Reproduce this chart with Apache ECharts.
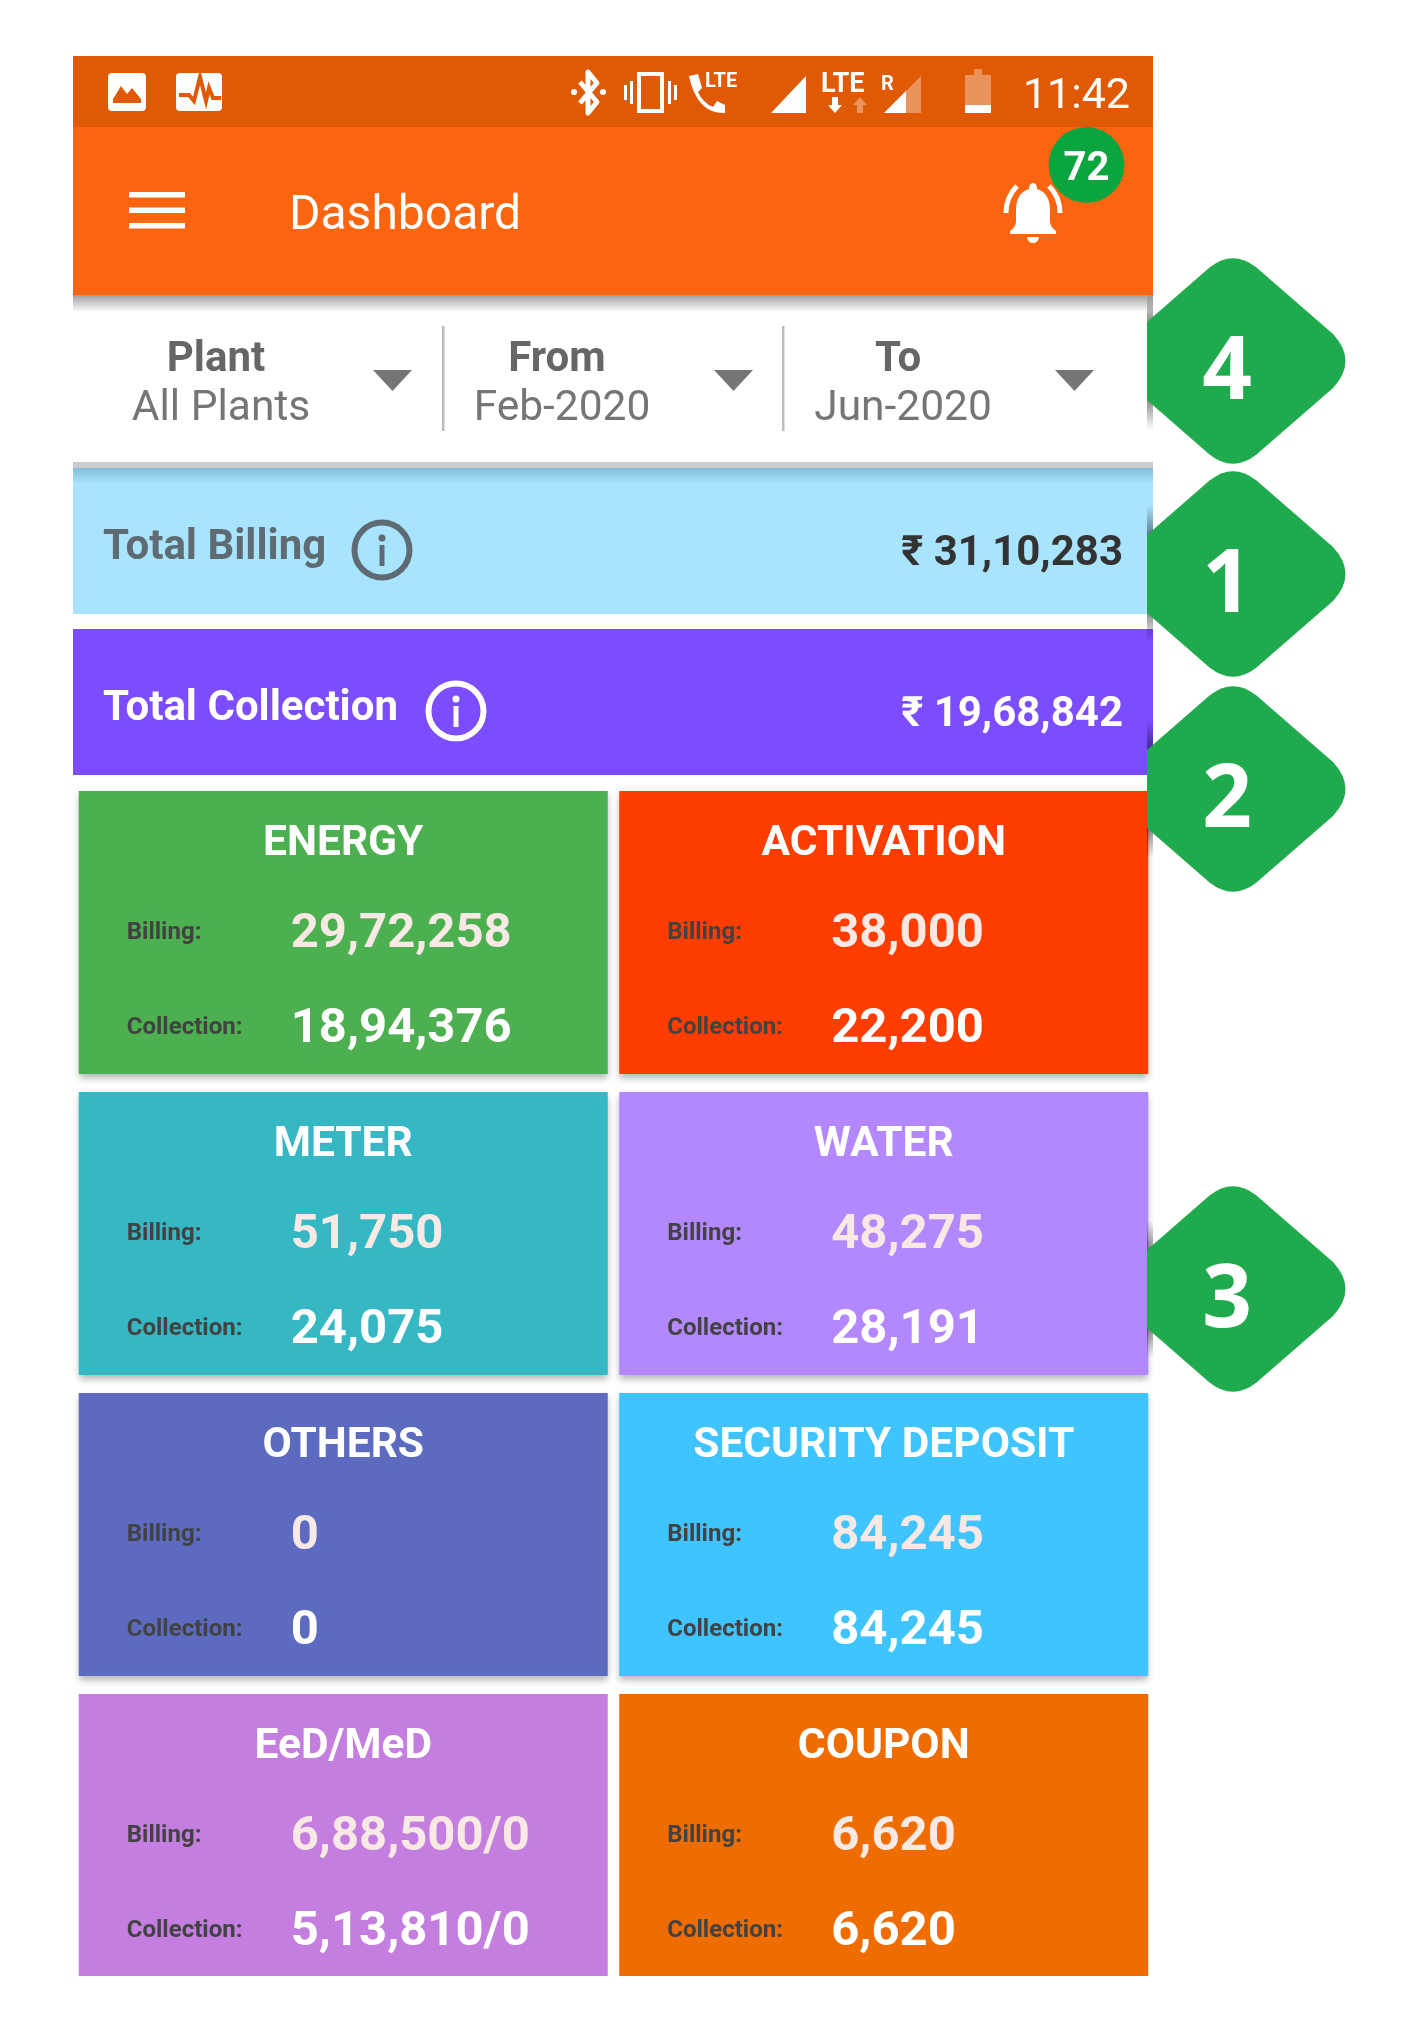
<!DOCTYPE html>
<html>
<head>
<meta charset="utf-8">
<title>Dashboard</title>
<script src="https://cdn.jsdelivr.net/npm/echarts@6/dist/echarts.min.js"></script>
<style>
  html, body { margin: 0; padding: 0; background: #fff; }
  #main { width: 1426px; height: 2024px; }
</style>
</head>
<body>
<div id="main"></div>
<script>
// values
const categories = ['ENERGY', 'ACTIVATION', 'METER', 'WATER', 'OTHERS', 'SECURITY DEPOSIT', 'EeD/MeD', 'COUPON'];
const billing = ['29,72,258', '38,000', '51,750', '48,275', '0', '84,245', '6,88,500/0', '6,620'];
const collection = ['18,94,376', '22,200', '24,075', '28,191', '0', '84,245', '5,13,810/0', '6,620'];
const totalNames = ['Total Billing', 'Total Collection'];
const totalValues = ['₹ 31,10,283', '₹ 19,68,842'];
const filterNames = ['Plant', 'From', 'To'];
const filterValues = ['All Plants', 'Feb-2020', 'Jun-2020'];
const markers = ['4', '1', '2', '3'];
const notifications = '72';
const clock = '11:42';
const pageTitle = 'Dashboard';

const cardColors = ['#4CAF50', '#FF3D00', '#35B8C4', '#B388FF', '#5C6BC0', '#40C4FF', '#C47EDF', '#EF6C00'];
const totalColors = ['#A9E4FF', '#7C4DFF'];
const totalTextColors = ['#5F6B72', '#ffffff'];
const totalValueColors = ['#333333', '#ffffff'];
const infoX = [382, 456];
const markerY = [361, 574, 789, 1289];
const filterNameX = [216, 557, 898];
const filterValueX = [221, 562, 903];
const arrowX = [373, 714, 1055];
const dividerX = [443, 783];

const FONT = 'Roboto, sans-serif';
const WHITE = '#ffffff';
const FADED = 'rgba(255,255,255,0.35)';

const myChart = echarts.init(document.getElementById('main'));

function rect(x, y, width, height, fill, extra) {
  return { type: 'rect', shape: { x, y, width, height }, style: Object.assign({ fill }, extra || {}) };
}
function label(text, x, y, font, fill, align) {
  return { type: 'text', style: { text, x, y, font, fill, align: align || 'left', verticalAlign: 'middle' } };
}
function path(pathData, style) {
  return { type: 'path', shape: { pathData }, style };
}
// vertical fade used for the soft shadows
function fade(from, to) {
  return new echarts.graphic.LinearGradient(0, 0, 0, 1, [
    { offset: 0, color: from },
    { offset: 1, color: to }
  ]);
}

function statusIcons() {
  const st = (w) => ({ fill: 'none', stroke: WHITE, lineWidth: w, lineJoin: 'round' });
  return [
    // picture notification
    path('M112 73 H142 Q146 73 146 77 V107 Q146 111 142 111 H112 Q108 111 108 107 V77 Q108 73 112 73 Z', { fill: WHITE }),
    path('M113 99 L121 86 L127 94 L132 88 L141 99 V103 H113 Z', { fill: '#E05A06' }),
    // activity notification
    path('M180 73 H218 Q222 73 222 77 V107 Q222 111 218 111 H180 Q176 111 176 107 V77 Q176 73 180 73 Z', { fill: WHITE }),
    path('M179 95 H189 L194 101 L200 77 L206 101 L209 88 L213 98 H221', { fill: 'none', stroke: '#E05A06', lineWidth: 4 }),
    // bluetooth
    path('M580 82 L597 102 L588 113 V72 L597 83 L580 103', st(5)),
    { type: 'circle', shape: { cx: 574, cy: 92, r: 3 }, style: { fill: WHITE } },
    { type: 'circle', shape: { cx: 603, cy: 92, r: 3 }, style: { fill: WHITE } },
    // vibrate
    rect(639, 74, 23, 37, 'none', { stroke: WHITE, lineWidth: 4 }),
    rect(630, 81, 3, 23, WHITE),
    rect(624, 85, 3, 15, WHITE),
    rect(668, 81, 3, 23, WHITE),
    rect(674, 85, 3, 15, WHITE),
    // phone
    path('M689 76 L698 74 L702 88 L698 92 Q703 103 713 107 L717 101 L725 105 V113 Q697 114 689 76 Z', { fill: WHITE }),
    label('LTE', 705, 82, 'bold 20px ' + FONT, WHITE),
    // signal 1
    path('M771 113 L806 76 V113 Z', { fill: WHITE }),
    label('LTE', 821, 85, 'bold 27px ' + FONT, WHITE),
    path('M832 97 V105 H828 L835 113 L842 105 H838 V97 Z', { fill: WHITE }),
    path('M857 113 V105 H853 L860 97 L867 105 H863 V113 Z', { fill: FADED }),
    label('R', 881, 85, 'bold 20px ' + FONT, WHITE),
    // signal 2
    path('M884 113 L921 76 V113 Z', { fill: FADED }),
    path('M884 113 L906 91 V113 Z', { fill: WHITE }),
    // battery
    rect(974, 69, 8, 6, FADED),
    rect(965, 75, 26, 30, FADED),
    rect(965, 105, 26, 8, WHITE)
  ];
}

function bellIcon() {
  return [
    path('M1033 183 Q1037 183 1037 189 Q1050 193 1050 210 V222 Q1051 228 1056 231 V234 H1010 V231 Q1015 228 1016 222 V210 Q1016 193 1029 189 Q1029 183 1033 183 Z', { fill: WHITE }),
    path('M1027 237 H1039 Q1038 243 1033 243 Q1028 243 1027 237 Z', { fill: WHITE }),
    path('M1006 213 Q1006 197 1017 186', { fill: 'none', stroke: WHITE, lineWidth: 5 }),
    path('M1060 213 Q1060 197 1049 186', { fill: 'none', stroke: WHITE, lineWidth: 5 })
  ];
}

// green badge, its left point is cut off flat as in the screenshot
function markerShape(text, cy) {
  const cx = 1233;
  const d = 'M' + (cx - 86) + ' ' + (cy - 39)
    + ' L' + (cx - 23.5) + ' ' + (cy - 93.5)
    + ' Q' + cx + ' ' + (cy - 112) + ' ' + (cx + 23.5) + ' ' + (cy - 93.5)
    + ' L' + (cx + 100) + ' ' + (cy - 27)
    + ' Q' + (cx + 125) + ' ' + cy + ' ' + (cx + 100) + ' ' + (cy + 27)
    + ' L' + (cx + 23.5) + ' ' + (cy + 93.5)
    + ' Q' + cx + ' ' + (cy + 112) + ' ' + (cx - 23.5) + ' ' + (cy + 93.5)
    + ' L' + (cx - 86) + ' ' + (cy + 39) + ' Z';
  return {
    type: 'group',
    children: [
      rect(1147, cy - 69, 6, 30, fade('rgba(0,0,0,0)', 'rgba(0,0,0,0.45)')),
      rect(1147, cy + 39, 6, 30, fade('rgba(0,0,0,0.45)', 'rgba(0,0,0,0)')),
      path(d, { fill: '#1FAA4D' }),
      label(text, 1227, cy + 13, 'bold 87px "Open Sans", sans-serif', WHITE, 'center')
    ]
  };
}

function filterRow() {
  const out = [];
  filterNames.forEach((name, i) => {
    out.push(label(name, filterNameX[i], 360, 'bold 42px ' + FONT, '#666666', 'center'));
    out.push(label(filterValues[i], filterValueX[i], 409, '400 42.5px ' + FONT, '#757575', 'center'));
    const ax = arrowX[i];
    out.push({ type: 'polygon', shape: { points: [[ax, 370], [ax + 39, 370], [ax + 19.5, 391]] }, style: { fill: '#757575' } });
  });
  dividerX.forEach((x) => out.push(rect(x - 1, 326, 2.5, 105, '#BDBDBD')));
  return out;
}

function renderChrome() {
  const children = [
    rect(73, 295, 1080, 167, WHITE),
    rect(73, 295, 1080, 17, fade('rgba(0,0,0,0.38)', 'rgba(0,0,0,0)')),
    rect(73, 462, 1080, 6, '#C9CBCF'),
    rect(73, 468, 1080, 16, fade('rgba(0,50,70,0.22)', 'rgba(0,50,70,0)'))
  ].concat(filterRow());
  children.push(
    rect(73, 127, 1080, 168, '#FB6510'),
    rect(73, 56, 1080, 71, '#E05A06'),
    rect(129, 192, 56, 5.5, WHITE),
    rect(129, 207.5, 56, 5.5, WHITE),
    rect(129, 223, 56, 5.5, WHITE),
    label(pageTitle, 289, 217, '400 48px ' + FONT, WHITE),
    label(clock, 1130, 97, '400 43px ' + FONT, WHITE, 'right')
  );
  children.push(...statusIcons(), ...bellIcon());
  children.push(
    { type: 'circle', shape: { cx: 1086.5, cy: 165, r: 38 }, style: { fill: '#0BA53F' } },
    label(notifications, 1086.5, 170, 'bold 40px ' + FONT, WHITE, 'center')
  );
  markers.forEach((m, i) => children.push(markerShape(m, markerY[i])));
  return { type: 'group', children };
}

function renderCard(params, api) {
  const i = api.value(2);
  const row = api.value(1);
  const center = api.coord([api.value(0), row]);
  const band = api.size([1, 1]);
  const w = band[0] - 11.5;
  const h = band[1] - 18 - (row === 3 ? 1 : 0);
  const x = center[0] - w / 2, y = center[1] - (band[1] - 18) / 2;
  const labelFont = 'bold 24px ' + FONT;
  const valueFont = 'bold 49px ' + FONT;
  return {
    type: 'group',
    children: [
      rect(x, y, w, h, cardColors[i], i < 6 ? { shadowBlur: 7, shadowColor: 'rgba(0,0,0,0.3)', shadowOffsetY: 4 } : {}),
      label(categories[i], center[0], y + 53, 'bold 42.5px ' + FONT, WHITE, 'center'),
      label('Billing:', x + 48, y + 142, labelFont, '#424242'),
      label(billing[i], x + 212, y + 144, valueFont, '#F9E9E5'),
      label('Collection:', x + 48, y + 237, labelFont, '#424242'),
      label(collection[i], x + 212, y + 239, valueFont, WHITE)
    ]
  };
}

function renderTotal(params, api) {
  const i = api.value(2);
  const center = api.coord([0, api.value(1)]);
  const band = api.size([1, 1]);
  const h = band[1] - 15;
  const y = center[1] - h / 2;
  const left = center[0] - band[0] / 2;
  const ink = totalTextColors[i];
  return {
    type: 'group',
    children: [
      rect(left, y, band[0], h, totalColors[i]),
      label(totalNames[i], left + 30, center[1] + 7, 'bold 42px ' + FONT, ink),
      { type: 'circle', shape: { cx: infoX[i], cy: center[1] + 9, r: 27.5 }, style: { fill: 'none', stroke: ink, lineWidth: 6 } },
      { type: 'circle', shape: { cx: infoX[i], cy: center[1] - 3, r: 3.5 }, style: { fill: ink } },
      rect(infoX[i] - 2.5, center[1] + 4, 5, 21, ink),
      label(totalValues[i], left + 1050, center[1] + 13, 'bold 42px ' + FONT, totalValueColors[i], 'right')
    ]
  };
}

const option = {
  animation: false,
  backgroundColor: '#ffffff',
  grid: [
    { left: 73, top: 782, width: 1081, height: 1204 },
    { left: 73, top: 460.5, width: 1080, height: 322 }
  ],
  xAxis: [
    { gridIndex: 0, type: 'category', data: ['left', 'right'], show: false },
    { gridIndex: 1, type: 'category', data: ['total'], show: false }
  ],
  yAxis: [
    { gridIndex: 0, type: 'category', data: ['row 1', 'row 2', 'row 3', 'row 4'], inverse: true, show: false },
    { gridIndex: 1, type: 'category', data: totalNames, inverse: true, show: false }
  ],
  series: [
    {
      type: 'custom',
      xAxisIndex: 0,
      yAxisIndex: 0,
      renderItem: renderCard,
      data: categories.map((c, i) => [i % 2, Math.floor(i / 2), i])
    },
    {
      type: 'custom',
      xAxisIndex: 1,
      yAxisIndex: 1,
      renderItem: renderTotal,
      data: totalNames.map((n, i) => [0, i, i])
    },
    {
      type: 'custom',
      coordinateSystem: 'none',
      z: 5,
      renderItem: renderChrome,
      data: [[0]]
    }
  ]
};

option && myChart.setOption(option);
</script>
</body>
</html>
